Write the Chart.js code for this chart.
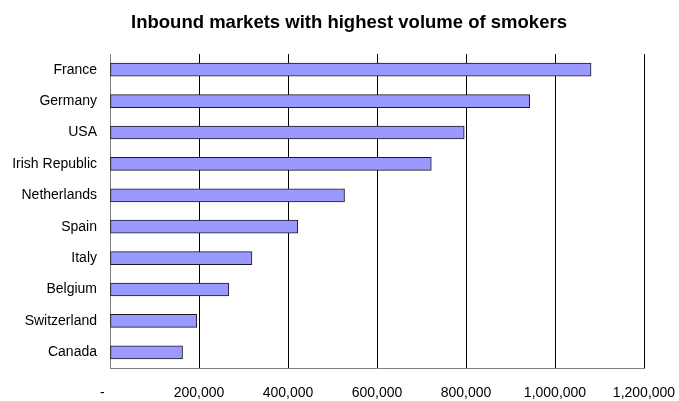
<!DOCTYPE html>
<html>
<head>
<meta charset="utf-8">
<script src="https://cdn.jsdelivr.net/npm/chart.js@4.4.1/dist/chart.umd.min.js"></script>
<style>
  html, body { margin: 0; padding: 0; background: #ffffff; }
  #wrap { width: 679px; height: 401px; }
</style>
</head>
<body>
<div id="wrap"><canvas id="c" width="679" height="401"></canvas></div>
<script>
// Inbound markets ranked by number of smokers
const markets = ['France', 'Germany', 'USA', 'Irish Republic', 'Netherlands',
                 'Spain', 'Italy', 'Belgium', 'Switzerland', 'Canada'];
const smokers = [1081000, 943000, 796000, 722000, 527000,
                 422000, 319000, 267000, 195000, 163000];
const xTicks = [0, 200000, 400000, 600000, 800000, 1000000, 1200000];
const chartTitle = 'Inbound markets with highest volume of smokers';

const FONT = "'Liberation Sans', Arial, sans-serif";

// Heading drawn above the plot, centred a little right of the canvas middle
const headingPlugin = {
  id: 'heading',
  afterDraw(chart) {
    const ctx = chart.ctx;
    ctx.save();
    ctx.font = 'bold 18.5px ' + FONT;
    ctx.fillStyle = '#000000';
    ctx.textAlign = 'center';
    ctx.textBaseline = 'middle';
    ctx.fillText(chartTitle, 349, 23);
    ctx.restore();
  }
};

new Chart(document.getElementById('c'), {
  type: 'bar',
  data: {
    labels: markets,
    datasets: [{
      data: smokers,
      backgroundColor: '#9999ff',
      borderColor: '#1a1a1a',
      borderWidth: 1,
      borderSkipped: false,
      barThickness: 13
    }]
  },
  plugins: [headingPlugin],
  options: {
    indexAxis: 'y',
    responsive: false,
    animation: false,
    devicePixelRatio: 1,
    layout: { padding: { left: 0, right: 35, top: 54, bottom: 0 } },
    plugins: {
      legend: { display: false },
      tooltip: { enabled: false },
      title: { display: false }
    },
    scales: {
      x: {
        min: 0,
        max: 1200000,
        afterBuildTicks: (scale) => { scale.ticks = xTicks.map(v => ({ value: v })); },
        afterFit: (scale) => {
          scale.height = 33;
          scale.paddingLeft = 0;
          scale.paddingRight = 0;
        },
        grid: { color: '#000000', lineWidth: 1, drawTicks: false },
        border: { color: '#808080', width: 1 },
        ticks: {
          color: '#000000',
          font: { family: FONT, size: 14 },
          padding: 17,
          maxRotation: 0,
          callback: (v) => v === 0 ? '-    ' : v.toLocaleString('en-US')
        }
      },
      y: {
        afterFit: (scale) => { scale.width = 110; },
        grid: { display: false, drawTicks: false },
        border: { color: '#808080', width: 1 },
        ticks: {
          color: '#000000',
          font: { family: FONT, size: 14 },
          padding: 13
        }
      }
    }
  }
});
</script>
</body>
</html>
